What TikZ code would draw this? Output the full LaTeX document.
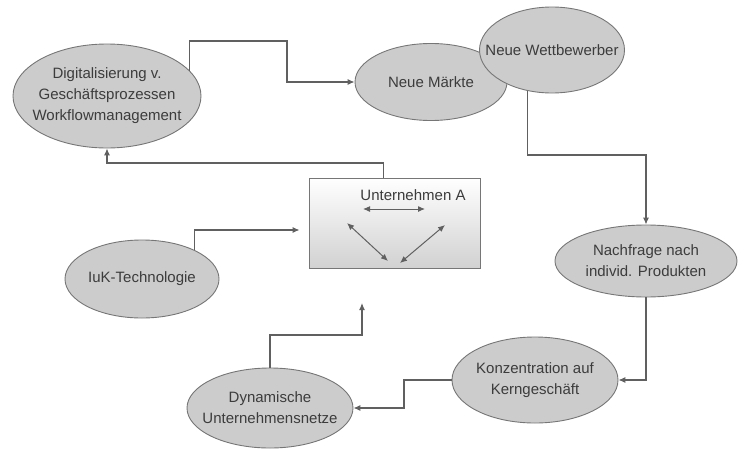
\documentclass[tikz,border=0pt]{standalone}
\usepackage{fontspec}
\setmainfont{Liberation Sans}
\usepackage{tikz}
\usetikzlibrary{arrows.meta,shapes.geometric,calc}
\definecolor{blasengrau}{RGB}{204,204,204}
\definecolor{randgrau}{RGB}{118,118,118}
\definecolor{liniengrau}{RGB}{96,96,96}
\definecolor{textgrau}{RGB}{60,60,60}
\tikzset{
  blase/.style={ellipse, draw=randgrau, line width=0.9pt, fill=blasengrau, inner sep=-20pt,
    align=center, text=textgrau, font=\fontsize{15}{21}\selectfont},
  pfeil/.style={draw=liniengrau, line width=1.1pt, -{Latex[length=7pt,width=6pt]}},
  doppelpfeil/.style={draw=liniengrau, line width=1pt, {Latex[length=7pt,width=6pt]}-{Latex[length=7pt,width=6pt]}}
}
\begin{document}
\begin{tikzpicture}[x=1pt,y=-1pt]
\useasboundingbox (0,0) rectangle (744,450);
\node[blase, minimum width=188pt, minimum height=104pt] (dig) at (107,96) {Digitalisierung v.\\Geschäftsprozessen\\Workflowmanagement};
\node[blase, minimum width=152pt, minimum height=77pt] (maerkte) at (431,82) {Neue Märkte};
\node[blase, minimum width=145pt, minimum height=86pt] (wett) at (552,50) {Neue Wettbewerber};
\node[blase, minimum width=182pt, minimum height=72pt] (nach) at (646,261) {Nachfrage nach\\individ. Produkten};
\node[blase, minimum width=166pt, minimum height=86pt] (konz) at (535,380) {Konzentration auf\\Kerngeschäft};
\node[blase, minimum width=154pt, minimum height=78pt] (iuk) at (142,279) {IuK-Technologie};
\node[blase, minimum width=166pt, minimum height=80pt] (dyn) at (270,408) {Dynamische\\Unternehmensnetze};
\node[draw=randgrau, line width=0.9pt, top color=white, bottom color=black!18, minimum width=171pt, minimum height=90pt] (firma) at (394.5,223) {};
\node[text=textgrau, font=\fontsize{15}{21}\selectfont] (firmatext) at (413,195) {Unternehmen A};
\coordinate (frei) at (362,303);
\draw[pfeil] (dig.17) |- (287,41) |- (maerkte.west);
\draw[pfeil] ([xshift=-11pt]firma.north) |- (dig.south |- 0,163) -- (dig.south);
\draw[pfeil] (wett.239) |- (nach.north |- 0,155) -- (nach.north);
\draw[pfeil] (nach.south) |- (konz.east);
\draw[pfeil] (konz.west) -- (404,380) |- (dyn.east);
\draw[pfeil] (dyn.north) |- (frei |- 0,335) -- (frei);
\draw[pfeil, shorten >=9pt] (iuk.29) |- ([yshift=-7pt]firma.west);
\draw[doppelpfeil] (363,209) -- (425,209);
\draw[doppelpfeil] (347,223) -- (388,261);
\draw[doppelpfeil] (445,225) -- (400,263);
\end{tikzpicture}
\end{document}
